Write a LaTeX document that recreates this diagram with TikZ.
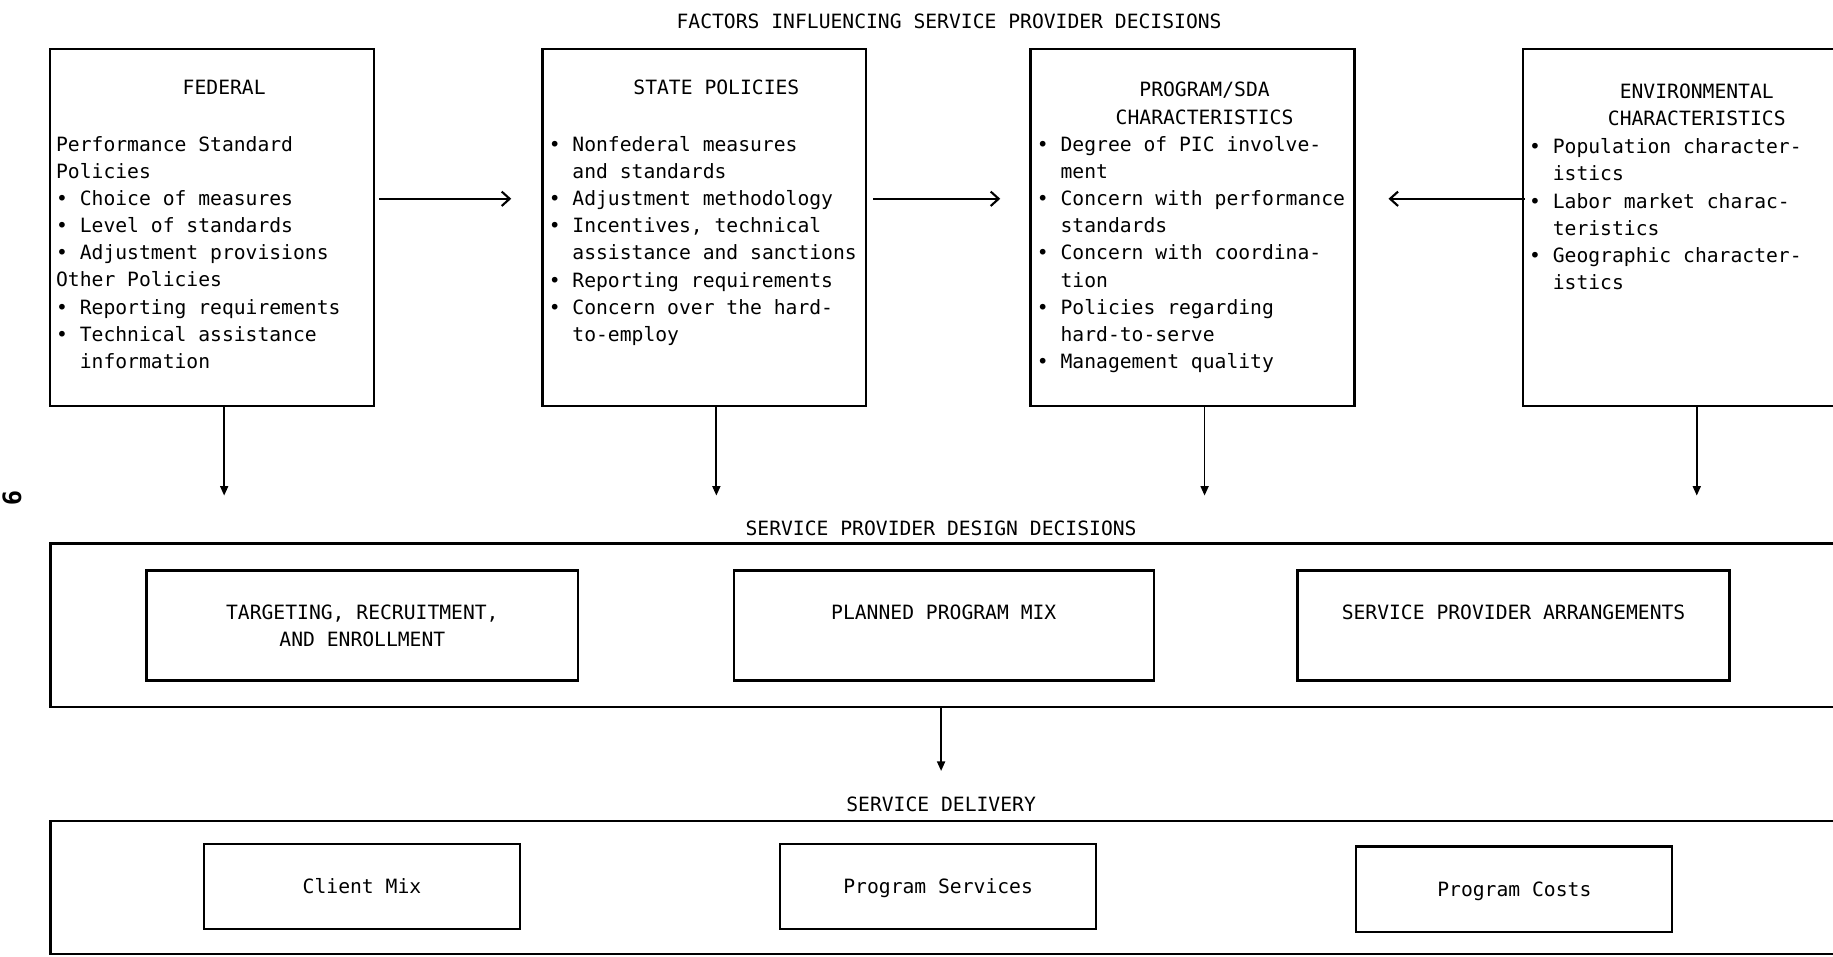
\documentclass[tikz,border=0pt]{standalone}
\usepackage{fontspec}
\setmainfont{DejaVu Sans Mono}
\usepackage{tikz}
\usetikzlibrary{positioning,arrows.meta}

\newcommand{\itembul}{•\ }
\newcommand{\itemcont}{\phantom{•\ }}

\begin{document}
\begin{tikzpicture}[
  node distance=4.15cm,
  txt/.style={font=\fontsize{14}{19.3}\selectfont, inner sep=0pt},
  factor/.style={draw, line width=1.6pt, minimum width=8.1cm, minimum height=8.92cm},
  heading/.style={txt, align=center},
  items/.style={txt, align=left},
  stage/.style={draw, line width=1.6pt, minimum width=45.04cm, minimum height=4.09cm},
  part/.style={draw, line width=1.6pt, align=center, font=\fontsize{14}{19.3}\selectfont, minimum width=10.8cm, minimum height=2.75cm},
  outcome/.style={part, minimum width=7.9cm, minimum height=2.13cm, text height=0.36cm, text depth=0cm},
  sidearrow/.style={-{Straight Barb[length=0.2cm,width=0.36cm]}, line width=1.5pt},
  downarrow/.style={-{Triangle[length=0.24cm,width=0.2cm]}, line width=1.3pt}
]
\useasboundingbox (0,0) rectangle (45.83,-23.91);
\clip (0,0) rectangle (45.83,-23.91);

\node[txt] (factorstitle) at (23.73,-0.53) {FACTORS INFLUENCING SERVICE PROVIDER DECISIONS};

% factor boxes
\node[factor] (fed) at (5.305,-5.69) {};
\node[factor, right=of fed] (state) {};
\node[factor, right=4.05cm of state] (prog) {};
\node[factor, right=of prog] (env) {};

\node[heading, below=0.8cm of fed.north, xshift=0.3cm] (fedhd) {FEDERAL};
\node[heading, below=0.8cm of state.north, xshift=0.3cm] (statehd) {STATE POLICIES};
\node[heading, below=0.85cm of prog.north, xshift=0.3cm] (proghd) {PROGRAM/SDA\\CHARACTERISTICS};
\node[heading, below=0.88cm of env.north, xshift=0.3cm] (envhd) {ENVIRONMENTAL\\CHARACTERISTICS};

\node[items, below right=2.2cm and 0.17cm of fed.north west] (fedlist) {Performance Standard\\
Policies\\
\itembul Choice of measures\\
\itembul Level of standards\\
\itembul Adjustment provisions\\
Other Policies\\
\itembul Reporting requirements\\
\itembul Technical assistance\\
\itemcont information};
\node[items, below right=2.2cm and 0.18cm of state.north west] (statelist) {\itembul Nonfederal measures\\
\itemcont and standards\\
\itembul Adjustment methodology\\
\itembul Incentives, technical\\
\itemcont assistance and sanctions\\
\itembul Reporting requirements\\
\itembul Concern over the hard-\\
\itemcont to-employ};
\node[items, below right=2.2cm and 0.18cm of prog.north west] (proglist) {\itembul Degree of PIC involve-\\
\itemcont ment\\
\itembul Concern with performance\\
\itemcont standards\\
\itembul Concern with coordina-\\
\itemcont tion\\
\itembul Policies regarding\\
\itemcont hard-to-serve\\
\itembul Management quality};
\node[items, below right=2.26cm and 0.18cm of env.north west] (envlist) {\itembul Population character-\\
\itemcont istics\\
\itembul Labor market charac-\\
\itemcont teristics\\
\itembul Geographic character-\\
\itemcont istics};

\draw[sidearrow, shorten <=0.1cm, shorten >=0.75cm] ([yshift=0.72cm]fed.east) -- ([yshift=0.72cm]state.west);
\draw[sidearrow, shorten <=0.15cm, shorten >=0.73cm] ([yshift=0.72cm]state.east) -- ([yshift=0.72cm]prog.west);
\draw[sidearrow, shorten <=-0.08cm, shorten >=0.82cm] ([yshift=0.72cm]env.west) -- ([yshift=0.72cm]prog.east);

% design decisions
\node[stage] (design) at (23.78,-15.635) {};
\node[txt] (designtitle) at (23.53,-13.21) {SERVICE PROVIDER DESIGN DECISIONS};
\node[part] (targeting) at (9.06,-15.64) {TARGETING, RECRUITMENT,\\AND ENROLLMENT};
\node[part, minimum width=10.5cm, right=3.83cm of targeting] (mix) {PLANNED PROGRAM MIX\\[0pt]\mbox{}};
\node[part, right=3.54cm of mix] (arrangements) {SERVICE PROVIDER ARRANGEMENTS\\[0pt]\mbox{}};

\foreach \src in {fed,state,prog,env}
  \draw[downarrow, shorten >=1.17cm] ([xshift=0.3cm]\src.south) -- ([xshift=0.3cm]\src.south |- design.north);

% delivery
\node[stage, minimum height=3.33cm] (delivery) at (23.78,-22.185) {};
\node[txt] (deliverytitle) at (23.53,-20.11) {SERVICE DELIVERY};
\node[outcome] (clientmix) at (9.05,-22.17) {Client Mix};
\node[outcome, right=6.45cm of clientmix] (services) {Program Services};
\node[outcome, right=6.45cm of services, yshift=-0.06cm] (costs) {Program Costs};

\draw[downarrow, shorten >=0.64cm] (design.south -| deliverytitle) -- (deliverytitle.north);

\node[rotate=-90, font=\fontsize{18}{20}\selectfont\bfseries] (pagenum) at (0.3,-12.45) {9};
\end{tikzpicture}
\end{document}
